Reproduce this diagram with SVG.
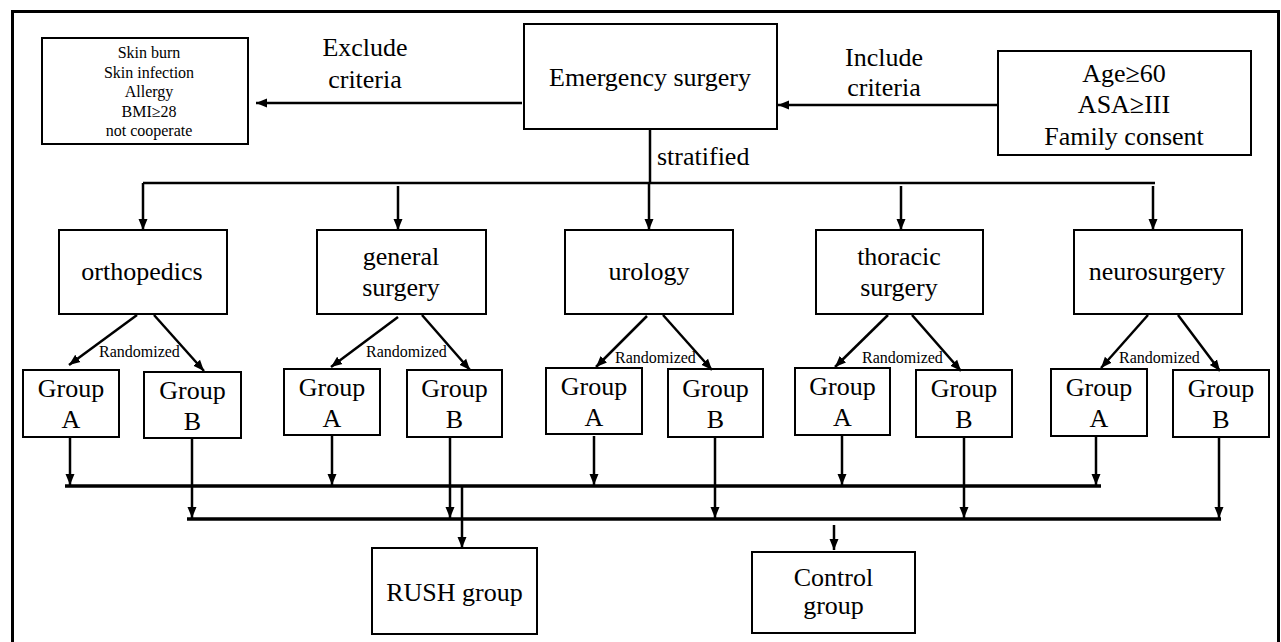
<svg xmlns="http://www.w3.org/2000/svg" width="1281" height="642" viewBox="0 0 1281 642">
<style>
.box{fill:#fff;stroke:#000;stroke-width:2}
.t{font-family:"Liberation Serif","Times New Roman",Times,"DejaVu Serif",serif;font-size:26px;fill:#000;text-anchor:middle}
.s{font-family:"Liberation Serif","Times New Roman",Times,"DejaVu Serif",serif;font-size:16px;fill:#000;text-anchor:middle}
.r{font-family:"Liberation Serif","Times New Roman",Times,"DejaVu Serif",serif;font-size:16px;fill:#000}
.c{stroke:#000;stroke-width:2.5;fill:none}
.a{stroke:#000;stroke-width:2.5;fill:none;marker-end:url(#ah)}
.b{stroke:#000;stroke-width:3.5;fill:none}
</style>
<defs>
<marker id="ah" markerUnits="userSpaceOnUse" markerWidth="12" markerHeight="12" viewBox="0 0 12 12" refX="11" refY="6" orient="auto">
<path d="M0,1.5 L11,6 L0,10.5 Z" fill="#000"/>
</marker>
</defs>
<rect x="0" y="0" width="1281" height="642" fill="#fff"/>
<rect x="12.5" y="11.5" width="1266" height="645" fill="none" stroke="#000" stroke-width="3"/>

<g id="exclude">
<rect class="box" x="42" y="38" width="206" height="106"/>
<text class="s" x="149" y="58">Skin burn</text>
<text class="s" x="149" y="77.5">Skin infection</text>
<text class="s" x="149" y="97">Allergy</text>
<text class="s" x="149" y="116.5">BMI≥28</text>
<text class="s" x="149" y="136">not cooperate</text>
</g>
<g id="emergency">
<rect class="box" x="524" y="24" width="253" height="105"/>
<text class="t" x="650" y="86">Emergency surgery</text>
</g>
<g id="include">
<rect class="box" x="998" y="51" width="253" height="104"/>
<text class="t" x="1124" y="82">Age≥60</text>
<text class="t" x="1124" y="113">ASA≥III</text>
<text class="t" x="1124" y="145">Family consent</text>
</g>
<g id="labels">
<text class="t" x="365" y="56">Exclude</text>
<text class="t" x="365" y="88">criteria</text>
<text class="t" x="884" y="66">Include</text>
<text class="t" x="884" y="96">criteria</text>
<text class="t" x="657" y="165" style="text-anchor:start">stratified</text>
<text class="r" x="99" y="357">Randomized</text>
<text class="r" x="366" y="357">Randomized</text>
<text class="r" x="615" y="363">Randomized</text>
<text class="r" x="862" y="363">Randomized</text>
<text class="r" x="1119" y="363">Randomized</text>
</g>

<g id="orthopedics">
<rect class="box" x="59" y="230" width="168" height="84"/>
<text class="t" x="142" y="280">orthopedics</text>
</g>
<g id="general">
<rect class="box" x="317" y="230" width="169" height="84"/>
<text class="t" x="401" y="265">general</text>
<text class="t" x="401" y="296">surgery</text>
</g>
<g id="urology">
<rect class="box" x="565" y="230" width="168" height="84"/>
<text class="t" x="649" y="280">urology</text>
</g>
<g id="thoracic">
<rect class="box" x="816" y="230" width="167" height="84"/>
<text class="t" x="899" y="265">thoracic</text>
<text class="t" x="899" y="296">surgery</text>
</g>
<g id="neurosurgery">
<rect class="box" x="1074" y="230" width="168" height="84"/>
<text class="t" x="1157" y="280">neurosurgery</text>
</g>

<g id="groupA1"><rect class="box" x="23" y="370" width="96" height="67"/><text class="t" x="71" y="397">Group</text><text class="t" x="71" y="428">A</text></g>
<g id="groupB1"><rect class="box" x="144" y="372" width="97" height="66"/><text class="t" x="192.5" y="399">Group</text><text class="t" x="192.5" y="430">B</text></g>
<g id="groupA2"><rect class="box" x="284" y="369" width="96" height="66"/><text class="t" x="332" y="396">Group</text><text class="t" x="332" y="427">A</text></g>
<g id="groupB2"><rect class="box" x="407" y="370" width="95" height="67"/><text class="t" x="454.5" y="397">Group</text><text class="t" x="454.5" y="428">B</text></g>
<g id="groupA3"><rect class="box" x="546" y="368" width="96" height="66"/><text class="t" x="594" y="395">Group</text><text class="t" x="594" y="426">A</text></g>
<g id="groupB3"><rect class="box" x="668" y="369" width="95" height="68"/><text class="t" x="715.5" y="397">Group</text><text class="t" x="715.5" y="428">B</text></g>
<g id="groupA4"><rect class="box" x="795" y="368" width="95" height="67"/><text class="t" x="842.5" y="395">Group</text><text class="t" x="842.5" y="426">A</text></g>
<g id="groupB4"><rect class="box" x="916" y="370" width="96" height="67"/><text class="t" x="964" y="397">Group</text><text class="t" x="964" y="428">B</text></g>
<g id="groupA5"><rect class="box" x="1051" y="369" width="96" height="67"/><text class="t" x="1099" y="396">Group</text><text class="t" x="1099" y="427">A</text></g>
<g id="groupB5"><rect class="box" x="1173" y="370" width="96" height="67"/><text class="t" x="1221" y="397">Group</text><text class="t" x="1221" y="428">B</text></g>

<g id="rush">
<rect class="box" x="372" y="548" width="165" height="86"/>
<text class="t" x="454.5" y="601">RUSH group</text>
</g>
<g id="control">
<rect class="box" x="752" y="552" width="163" height="81"/>
<text class="t" x="833.5" y="586">Control</text>
<text class="t" x="833.5" y="614">group</text>
</g>

<g id="connectors">
<line class="a" x1="522" y1="103" x2="256" y2="103"/>
<line class="a" x1="998" y1="105" x2="778" y2="105"/>
<line class="c" x1="650" y1="129" x2="650" y2="183"/>
<line class="c" x1="143" y1="183" x2="1155" y2="183"/>
<line class="a" x1="143" y1="183" x2="143" y2="230"/>
<line class="a" x1="398" y1="186" x2="398" y2="230"/>
<line class="a" x1="649" y1="183" x2="649" y2="230"/>
<line class="a" x1="901" y1="186" x2="901" y2="230"/>
<line class="a" x1="1153" y1="186" x2="1153" y2="230"/>

<line class="a" x1="137" y1="315" x2="69" y2="365"/>
<line class="a" x1="154" y1="315" x2="204" y2="371"/>
<line class="a" x1="398" y1="317" x2="331" y2="367"/>
<line class="a" x1="422" y1="315" x2="470" y2="370"/>
<line class="a" x1="647" y1="316" x2="596" y2="367"/>
<line class="a" x1="663" y1="315" x2="712" y2="370"/>
<line class="a" x1="888" y1="315" x2="835" y2="367"/>
<line class="a" x1="912" y1="315" x2="961" y2="371"/>
<line class="a" x1="1148" y1="315" x2="1101" y2="368"/>
<line class="a" x1="1178" y1="315" x2="1220" y2="371"/>

<line class="a" x1="70" y1="438" x2="70" y2="485"/>
<line class="a" x1="332" y1="436" x2="332" y2="485"/>
<line class="a" x1="594" y1="436" x2="594" y2="485"/>
<line class="a" x1="842" y1="436" x2="842" y2="485"/>
<line class="a" x1="1096" y1="437" x2="1096" y2="485"/>
<line class="a" x1="192" y1="439" x2="192" y2="518"/>
<line class="a" x1="450" y1="438" x2="450" y2="518"/>
<line class="a" x1="715" y1="438" x2="715" y2="518"/>
<line class="a" x1="964" y1="438" x2="964" y2="518"/>
<line class="a" x1="1219" y1="438" x2="1219" y2="518"/>
<line class="b" x1="65" y1="486" x2="1101" y2="486"/>
<line class="b" x1="187" y1="519" x2="1221" y2="519"/>
<line class="a" x1="462" y1="486" x2="462" y2="548"/>
<line class="a" x1="834" y1="525" x2="834" y2="550"/>
</g>
</svg>
